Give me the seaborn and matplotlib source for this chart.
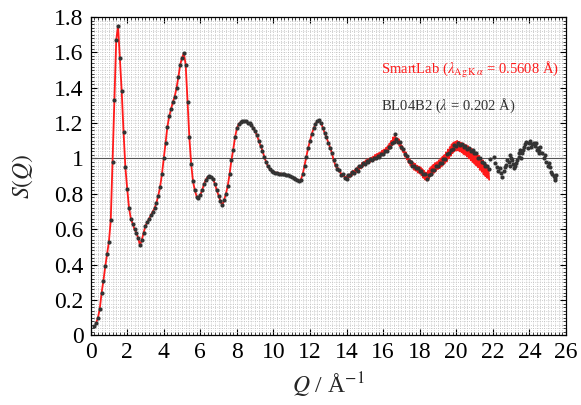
import numpy as np
import pandas as pd
import seaborn as sns
import matplotlib.pyplot as plt
from matplotlib.ticker import MultipleLocator, FuncFormatter

# BL04B2 S(Q) on a 0.1 A^-1 grid from 0.2 to 21.8
q_bl = np.arange(2, 219) / 10
s_bl = [
    0.05, 0.07, 0.10, 0.15, 0.24, 0.31, 0.39, 0.46, 0.53, 0.65,
    0.98, 1.33, 1.67, 1.75, 1.57, 1.38, 1.15, 0.95, 0.83, 0.72,
    0.66, 0.63, 0.60, 0.58, 0.55, 0.51, 0.54, 0.58, 0.62, 0.64,
    0.66, 0.68, 0.70, 0.72, 0.75, 0.79, 0.84, 0.91, 1.00, 1.09,
    1.18, 1.24, 1.28, 1.32, 1.35, 1.40, 1.46, 1.53, 1.57, 1.595,
    1.53, 1.32, 1.12, 0.97, 0.87, 0.82, 0.785, 0.775, 0.795, 0.82,
    0.855, 0.88, 0.895, 0.90, 0.895, 0.885, 0.855, 0.82, 0.79, 0.76,
    0.735, 0.765, 0.80, 0.845, 0.91, 0.99, 1.05, 1.12, 1.17, 1.195,
    1.205, 1.21, 1.21, 1.21, 1.20, 1.20, 1.19, 1.17, 1.155, 1.13,
    1.10, 1.07, 1.045, 1.01, 0.98, 0.955, 0.94, 0.93, 0.925, 0.92,
    0.92, 0.915, 0.915, 0.912, 0.91, 0.905, 0.905, 0.90, 0.895, 0.89,
    0.885, 0.88, 0.873, 0.88, 0.91, 0.96, 1.01, 1.06, 1.10, 1.14,
    1.17, 1.195, 1.21, 1.215, 1.20, 1.175, 1.145, 1.12, 1.09, 1.06,
    1.03, 0.99, 0.965, 0.94, 0.935, 0.905, 0.91, 0.89, 0.885, 0.905,
    0.905, 0.925, 0.92, 0.94, 0.93, 0.955, 0.955, 0.975, 0.97, 0.985,
    0.98, 0.995, 0.99, 1.005, 1.0, 1.015, 1.01, 1.025, 1.025, 1.045,
    1.045, 1.065, 1.065, 1.09, 1.095, 1.11, 1.095, 1.095, 1.065, 1.055,
    1.025, 1.015, 0.985, 0.98, 0.96, 0.96, 0.945, 0.945, 0.93, 0.93,
    0.91, 0.91, 0.885, 0.905, 0.915, 0.935, 0.935, 0.955, 0.955, 0.975,
    0.975, 0.995, 0.995, 1.025, 1.03, 1.05, 1.055, 1.075, 1.07, 1.09,
    1.075, 1.08, 1.065, 1.07, 1.055, 1.06, 1.045, 1.05, 1.03, 1.03,
    1.005, 1.0, 0.98, 0.975, 0.955, 0.955, 0.94,
]
# scattered BL04B2 points past the end of the SmartLab range
tail_q = [16.66, 21.86, 22.04, 22.23, 22.37, 22.50, 22.59, 22.74, 22.87, 22.96,
          23.05, 23.14, 23.29, 23.41, 23.51, 23.60, 23.73, 23.84, 23.96, 24.09,
          24.24, 24.42, 24.51, 24.60, 24.79, 24.93, 25.06, 25.19, 25.33, 25.42,
          22.12, 22.30, 22.45, 22.66, 22.80, 22.92, 23.00, 23.10, 23.22, 23.35,
          23.46, 23.56, 23.66, 23.78, 23.90, 24.02, 24.15, 24.30, 24.36, 24.47,
          24.55, 24.68, 24.86, 25.00, 25.12, 25.25, 25.38, 25.47]
tail_s = [1.14, 0.995, 1.01, 0.954, 0.945, 0.894, 0.931, 0.963, 0.982, 1.02,
          0.99, 0.945, 0.973, 1.01, 1.048, 1.03, 1.067, 1.095, 1.086, 1.067,
          1.086, 1.048, 1.03, 1.067, 1.00, 0.98, 0.973, 0.925, 0.90, 0.89,
          0.975, 0.93, 0.92, 0.95, 0.99, 0.96, 1.00, 0.97, 0.96, 0.99,
          1.03, 1.00, 1.05, 1.08, 1.06, 1.10, 1.08, 1.07, 1.09, 1.06,
          1.045, 1.03, 1.02, 0.96, 0.95, 0.91, 0.88, 0.905]

# SmartLab: same smooth part up to 13, then noisy data on a 0.05 grid
s_red_hi = [
    1.08, 1.055, 1.05, 1.025, 1.01, 0.985, 0.975, 0.955, 0.95, 0.94,
    0.945, 0.925, 0.93, 0.91, 0.91, 0.90, 0.905, 0.89, 0.895, 0.885,
    0.905, 0.89, 0.91, 0.895, 0.92, 0.905, 0.93, 0.91, 0.935, 0.92,
    0.945, 0.925, 0.955, 0.94, 0.96, 0.945, 0.975, 0.955, 0.98, 0.965,
    0.99, 0.97, 0.995, 0.975, 1.0, 0.98, 1.005, 0.985, 1.01, 0.99,
    1.02, 0.995, 1.025, 1.0, 1.03, 1.01, 1.035, 1.015, 1.045, 1.02,
    1.05, 1.03, 1.06, 1.04, 1.07, 1.05, 1.085, 1.06, 1.10, 1.075,
    1.12, 1.09, 1.125, 1.09, 1.115, 1.085, 1.11, 1.07, 1.09, 1.05,
    1.07, 1.035, 1.05, 1.01, 1.035, 0.995, 1.01, 0.975, 0.995, 0.96,
    0.985, 0.95, 0.975, 0.935, 0.97, 0.93, 0.96, 0.92, 0.955, 0.915,
    0.95, 0.905, 0.94, 0.89, 0.93, 0.88, 0.92, 0.875, 0.93, 0.885,
    0.945, 0.90, 0.955, 0.91, 0.965, 0.92, 0.975, 0.93, 0.98, 0.94,
    0.99, 0.945, 1.0, 0.955, 1.01, 0.965, 1.02, 0.975, 1.035, 0.985,
    1.05, 1.0, 1.065, 1.015, 1.08, 1.03, 1.09, 1.04, 1.095, 1.045,
    1.10, 1.045, 1.095, 1.04, 1.09, 1.035, 1.085, 1.025, 1.08, 1.02,
    1.075, 1.01, 1.07, 1.0, 1.06, 0.99, 1.055, 0.98, 1.045, 0.97,
    1.035, 0.96, 1.025, 0.95, 1.015, 0.935, 1.0, 0.925, 0.99, 0.91,
    0.975, 0.90, 0.965, 0.89, 0.955, 0.88,
]
q_red = np.concatenate([np.arange(3, 131) / 10, np.arange(261, 437) / 20])
s_red = list(s_bl[1:129]) + s_red_hi

red_df = pd.DataFrame({'Q': q_red, 'S': s_red})
bl_df = pd.DataFrame({'Q': np.concatenate([q_bl, tail_q]),
                      'S': list(s_bl) + tail_s})

sns.set_style('ticks')
plt.rcParams['font.family'] = ['Liberation Serif', 'DejaVu Serif']
plt.rcParams['mathtext.fontset'] = 'stix'

fig = plt.figure(figsize=(5.81, 4.05), dpi=100)
ax = fig.add_axes([0.156, 0.172, 0.818, 0.786])

ax.axhline(1, color='#555555', lw=0.8, zorder=1.5)
sns.lineplot(data=red_df, x='Q', y='S', color='#ff1a1a', lw=1.3,
             sort=False, estimator=None, ax=ax, zorder=2)
sns.scatterplot(data=bl_df, x='Q', y='S', color='#333333', s=9,
                linewidth=0, ax=ax, zorder=3)

ax.set_xlim(0, 26)
ax.set_ylim(0, 1.8)
ax.xaxis.set_major_locator(MultipleLocator(2))
ax.xaxis.set_minor_locator(MultipleLocator(0.2))
ax.yaxis.set_major_locator(MultipleLocator(0.2))
ax.yaxis.set_minor_locator(MultipleLocator(0.02))
fmt = FuncFormatter(lambda v, p: '%g' % round(v, 2))
ax.xaxis.set_major_formatter(fmt)
ax.yaxis.set_major_formatter(fmt)
ax.grid(which='both', color='#bdbdbd', lw=0.6, ls=':')
ax.tick_params(which='both', direction='in', top=True, right=True,
               labelsize=17, colors='black')
ax.tick_params(which='major', length=4, width=0.8, pad=5)
ax.tick_params(which='minor', length=2, width=0.5)
for sp in ax.spines.values():
    sp.set_color('black')
    sp.set_linewidth(0.9)

ax.set_xlabel(r'$Q$ / Å$^{-1}$', fontsize=17, labelpad=5)
ax.set_ylabel(r'$S(Q)$', fontsize=17, labelpad=14)

ax.text(0.612, 0.834, r'SmartLab ($\lambda_{\mathrm{Ag\,K}\,\alpha}$ = 0.5608 Å)',
        transform=ax.transAxes, color='#ff1a1a', fontsize=10.5, va='center')
ax.text(0.612, 0.72, r'BL04B2 ($\lambda$ = 0.202 Å)',
        transform=ax.transAxes, color='#333333', fontsize=10.5, va='center')

fig.savefig('out.png', dpi=100)
